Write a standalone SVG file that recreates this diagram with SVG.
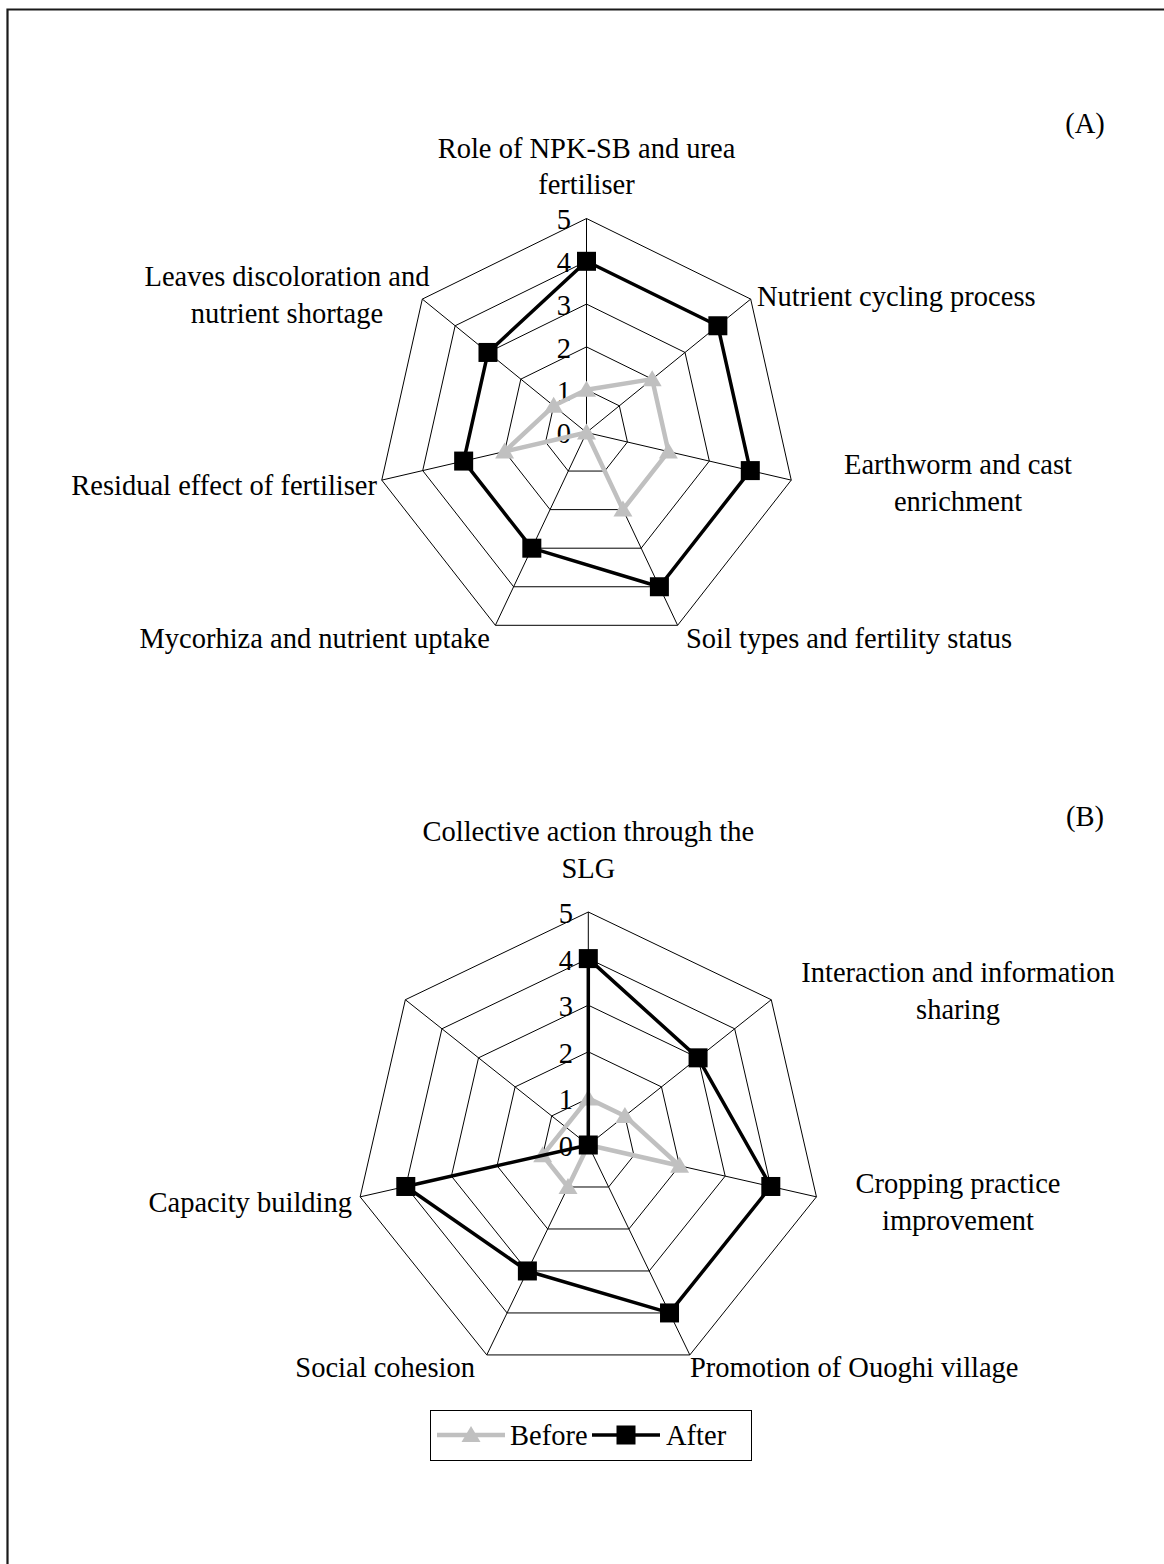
<svg xmlns="http://www.w3.org/2000/svg" width="1164" height="1564" viewBox="0 0 1164 1564">
  <style>
    text { font-family: "Liberation Serif", "Times New Roman", serif; font-size: 28.5px; fill: #000; }
    .mid { text-anchor: middle; }
    .end { text-anchor: end; }
    .grid { fill: none; stroke: #000; stroke-width: 1; }
    .before { fill: none; stroke: #c0c0c0; stroke-width: 4.5; stroke-linejoin: round; }
    .after { fill: none; stroke: #000; stroke-width: 3.5; stroke-linejoin: round; }
    .frame { fill: none; stroke: #1a1a1a; stroke-width: 2.2; }
  </style>
  <defs>
    <rect id="sq" x="-9.5" y="-9.5" width="19" height="19" fill="#000"/>
    <path id="tri" d="M0,-9 L9.5,7 L-9.5,7 Z" fill="#c0c0c0"/>
  </defs>

  <rect width="1164" height="1564" fill="#fff"/>
  <path class="frame" d="M7.5,1564 V9.5 H1164"/>

  <!-- Panel A: knowledge on soil fertility -->
  <g id="chart-a">
    <g id="chart-a-grid">
      <polygon class="grid" points="586.5,389.7 619.34,405.82 627.45,442.02 604.72,471.06 568.28,471.06 545.55,442.02 553.66,405.82"/>
      <polygon class="grid" points="586.5,346.9 652.17,379.13 668.39,451.55 622.95,509.62 550.05,509.62 504.61,451.55 520.83,379.13"/>
      <polygon class="grid" points="586.5,304.1 685.01,352.45 709.34,461.07 641.17,548.19 531.83,548.19 463.66,461.07 487.99,352.45"/>
      <polygon class="grid" points="586.5,261.3 717.85,325.76 750.29,470.6 659.39,586.75 513.61,586.75 422.71,470.6 455.15,325.76"/>
      <polygon class="grid" points="586.5,218.5 750.69,299.08 791.24,480.12 677.62,625.31 495.39,625.31 381.77,480.12 422.32,299.08"/>
      <path class="grid" d="M586.5,432.5 L586.5,218.5 M586.5,432.5 L750.69,299.08 M586.5,432.5 L791.24,480.12 M586.5,432.5 L677.62,625.31 M586.5,432.5 L495.39,625.31 M586.5,432.5 L381.77,480.12 M586.5,432.5 L422.32,299.08"/>
    </g>
    <g id="chart-a-scale">
      <text class="end" x="571" y="229">5</text>
      <text class="end" x="571" y="272">4</text>
      <text class="end" x="571" y="315">3</text>
      <text class="end" x="571" y="358">2</text>
      <text class="end" x="571" y="401">1</text>
      <text class="end" x="571" y="443">0</text>
    </g>
    <g id="chart-a-series">
      <polygon class="before" points="586.5,389.7 652.17,379.13 668.39,451.55 622.95,509.62 586.5,432.5 504.61,451.55 553.66,405.82"/>
      <use href="#tri" x="586.5" y="389.7"/>
      <use href="#tri" x="652.17" y="379.13"/>
      <use href="#tri" x="668.39" y="451.55"/>
      <use href="#tri" x="622.95" y="509.62"/>
      <use href="#tri" x="586.5" y="432.5"/>
      <use href="#tri" x="504.61" y="451.55"/>
      <use href="#tri" x="553.66" y="405.82"/>
      <polygon class="after" points="586.5,261.3 717.85,325.76 750.29,470.6 659.39,586.75 531.83,548.19 463.66,461.07 487.99,352.45"/>
      <use href="#sq" x="586.5" y="261.3"/>
      <use href="#sq" x="717.85" y="325.76"/>
      <use href="#sq" x="750.29" y="470.6"/>
      <use href="#sq" x="659.39" y="586.75"/>
      <use href="#sq" x="531.83" y="548.19"/>
      <use href="#sq" x="463.66" y="461.07"/>
      <use href="#sq" x="487.99" y="352.45"/>
    </g>
    <g id="chart-a-labels">
      <text class="mid" x="1085" y="133">(A)</text>
      <text class="mid" x="586.5" y="158">Role of NPK-SB and urea</text>
      <text class="mid" x="586.5" y="194">fertiliser</text>
      <text x="757" y="306">Nutrient cycling process</text>
      <text class="mid" x="958" y="474">Earthworm and cast</text>
      <text class="mid" x="958" y="511">enrichment</text>
      <text x="686" y="648">Soil types and fertility status</text>
      <text class="end" x="490" y="648">Mycorhiza and nutrient uptake</text>
      <text class="end" x="377" y="495">Residual effect of fertiliser</text>
      <text class="mid" x="287" y="286">Leaves discoloration and</text>
      <text class="mid" x="287" y="323">nutrient shortage</text>
    </g>
  </g>

  <!-- Panel B: social learning outcomes -->
  <g id="chart-b">
    <g id="chart-b-grid">
      <polygon class="grid" points="588.3,1098.4 624.89,1115.95 633.93,1155.37 608.61,1186.99 567.99,1186.99 542.67,1155.37 551.71,1115.95"/>
      <polygon class="grid" points="588.3,1051.8 661.48,1086.89 679.55,1165.74 628.91,1228.97 547.69,1228.97 497.05,1165.74 515.12,1086.89"/>
      <polygon class="grid" points="588.3,1005.2 698.07,1057.84 725.18,1176.11 649.22,1270.96 527.38,1270.96 451.42,1176.11 478.53,1057.84"/>
      <polygon class="grid" points="588.3,958.6 734.66,1028.78 770.81,1186.48 669.52,1312.94 507.08,1312.94 405.79,1186.48 441.94,1028.78"/>
      <polygon class="grid" points="588.3,912 771.25,999.73 816.44,1196.85 689.83,1354.93 486.77,1354.93 360.17,1196.85 405.35,999.73"/>
      <path class="grid" d="M588.3,1145 L588.3,912 M588.3,1145 L771.25,999.73 M588.3,1145 L816.44,1196.85 M588.3,1145 L689.83,1354.93 M588.3,1145 L486.77,1354.93 M588.3,1145 L360.17,1196.85 M588.3,1145 L405.35,999.73"/>
    </g>
    <g id="chart-b-scale">
      <text class="end" x="573" y="923">5</text>
      <text class="end" x="573" y="970">4</text>
      <text class="end" x="573" y="1016">3</text>
      <text class="end" x="573" y="1063">2</text>
      <text class="end" x="573" y="1109">1</text>
      <text class="end" x="573" y="1156">0</text>
    </g>
    <g id="chart-b-series">
      <polygon class="before" points="588.3,1098.4 624.89,1115.95 679.55,1165.74 588.3,1145 567.99,1186.99 542.67,1155.37"/>
      <use href="#tri" x="588.3" y="1098.4"/>
      <use href="#tri" x="624.89" y="1115.95"/>
      <use href="#tri" x="679.55" y="1165.74"/>
      <use href="#tri" x="588.3" y="1145"/>
      <use href="#tri" x="567.99" y="1186.99"/>
      <use href="#tri" x="542.67" y="1155.37"/>
      <polygon class="after" points="588.3,1145 588.3,958.6 698.07,1057.84 770.81,1186.48 669.52,1312.94 527.38,1270.96 405.79,1186.48"/>
      <use href="#sq" x="588.3" y="1145"/>
      <use href="#sq" x="588.3" y="958.6"/>
      <use href="#sq" x="698.07" y="1057.84"/>
      <use href="#sq" x="770.81" y="1186.48"/>
      <use href="#sq" x="669.52" y="1312.94"/>
      <use href="#sq" x="527.38" y="1270.96"/>
      <use href="#sq" x="405.79" y="1186.48"/>
    </g>
    <g id="chart-b-labels">
      <text class="mid" x="1085" y="826">(B)</text>
      <text class="mid" x="588.3" y="841">Collective action through the</text>
      <text class="mid" x="588.3" y="878">SLG</text>
      <text class="mid" x="958" y="982">Interaction and information</text>
      <text class="mid" x="958" y="1019">sharing</text>
      <text class="mid" x="958" y="1193">Cropping practice</text>
      <text class="mid" x="958" y="1230">improvement</text>
      <text x="690" y="1377">Promotion of Ouoghi village</text>
      <text class="end" x="475" y="1377">Social cohesion</text>
      <text class="end" x="352" y="1212">Capacity building</text>
    </g>
  </g>

  <!-- Legend -->
  <g id="legend">
    <rect x="430.5" y="1410.5" width="321" height="50" fill="#fff" stroke="#000" stroke-width="1"/>
    <line x1="437" y1="1435" x2="505" y2="1435" stroke="#c0c0c0" stroke-width="4.5"/>
    <use href="#tri" x="471" y="1435"/>
    <text x="510" y="1445">Before</text>
    <line x1="592" y1="1435" x2="660" y2="1435" stroke="#000" stroke-width="3.5"/>
    <use href="#sq" x="626" y="1435"/>
    <text x="666" y="1445">After</text>
  </g>
</svg>
